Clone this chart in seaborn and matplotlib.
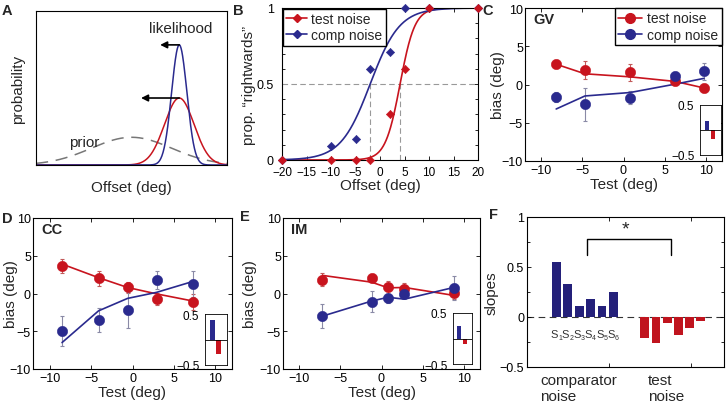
import numpy as np
import seaborn as sns
import matplotlib.pyplot as plt
from matplotlib.lines import Line2D
from matplotlib.ticker import MultipleLocator

RED = '#c8141e'
BLUE = '#2a2a8e'
RED_ERR = '#c25a5a'
BLUE_ERR = '#8a8aa6'
BAR_BLUE = '#24207a'
BAR_RED = '#c0141e'

# A: schematic gaussians (mean, sd, peak height)
a_means = [0.0, 5.0, 5.0]
a_sds = [4.2, 1.55, 0.8]
a_peaks = [0.18, 0.435, 0.78]
a_arrow_tips = [3.0, 1.0]   # where the shift arrows point to (comp, test)

# B: psychometric data
b_offsets = [-20, -10, -5, -2, 2, 5, 10, 20]
b_test = [0, 0, 0, 0, 0.30, 0.60, 1, 1]
b_comp = [0, 0.09, 0.14, 0.60, 0.71, 1, 1, 1]
b_pse = [4.1, -2.0]      # test, comp
b_slope = [1.5, 3.0]     # logistic scale, test, comp

# C: subject GV
gv_x = [-8.2, -4.7, 0.8, 6.3, 9.8]
gv_test = [2.7, 1.9, 1.6, 0.5, -0.45]
gv_test_err = [0.3, 1.15, 1.1, 0.4, 0.3]
gv_test_fit = [2.65, 1.4, 1.0, 0.4, -0.45]
gv_comp = [-1.6, -2.6, -1.7, 1.05, 1.7]
gv_comp_err = [0.65, 2.2, 0.9, 0.4, 1.15]
gv_comp_fit = [-3.2, -1.5, -1.05, 0.05, 0.8]
gv_inset = [0.19, -0.18]

# D: subject CC
cc_x = [-8.5, -4.1, -0.6, 2.9, 7.3]
cc_test = [3.6, 2.0, 0.8, -0.7, -1.1]
cc_test_err = [0.95, 1.0, 0.75, 0.8, 1.1]
cc_test_fit = [3.9, 2.1, 0.8, -0.05, -1.0]
cc_comp = [-5.0, -3.5, -2.2, 1.8, 1.3]
cc_comp_err = [2.0, 1.6, 2.4, 1.2, 1.7]
cc_comp_fit = [-6.5, -2.3, -0.65, 0.15, 1.6]
cc_inset = [0.39, -0.29]

# E: subject IM
im_x = [-7.2, -1.2, 0.8, 2.8, 8.8]
im_test = [1.8, 2.1, 0.8, 0.6, 0.05]
im_test_err = [0.85, 0.3, 0.9, 0.8, 0.8]
im_test_fit = [2.4, 1.5, 0.75, 0.8, -0.25]
im_comp = [-3.0, -1.1, -0.65, -0.05, 0.7]
im_comp_err = [1.55, 1.4, 0.6, 0.6, 1.6]
im_comp_fit = [-3.0, -1.0, -0.5, -0.75, 0.8]
im_inset = [0.25, -0.11]

# F: slopes per subject
subj_nums = ['1', '2', '3', '4', '5', '6']
comp_pos = [1.8, 2.48, 3.17, 3.87, 4.57, 5.25]
comp_slopes = [0.55, 0.33, 0.11, 0.18, 0.11, 0.25]
test_pos = [7.18, 7.86, 8.54, 9.22, 9.9, 10.57]
test_slopes = [-0.21, -0.26, -0.06, -0.18, -0.11, -0.04]
bracket_x = [3.64, 8.75]
bracket_y = [0.62, 0.78]

sns.set_style('ticks')
plt.rcParams['font.family'] = ['Liberation Sans', 'DejaVu Sans']
plt.rcParams['axes.unicode_minus'] = True

W, H = 726, 414
fig = plt.figure(figsize=(W / 100, H / 100), dpi=100)


def add_ax(l, t, r, b):
    return fig.add_axes([l / W, 1 - b / H, (r - l) / W, (b - t) / H])


def boxed(ax, lw=0.8):
    for s in ax.spines.values():
        s.set_visible(True)
        s.set_linewidth(lw)
        s.set_color('black')
    ax.tick_params(which='both', direction='in', top=True, right=True,
                   width=0.6, labelsize=9, pad=2, colors='black')
    ax.tick_params(which='major', length=3)
    ax.tick_params(which='minor', length=2)


def letter(x, y, s):
    fig.text(x / W, 1 - y / H, s, fontsize=10.5, fontweight='bold', va='baseline')


# ---------------- A ----------------
ax = add_ax(36, 12, 227, 166)
xa = np.linspace(-10, 10, 500)
styles = [('#777777', True), (RED, False), (BLUE, False)]
for m, sd, h, (c, dashed) in zip(a_means, a_sds, a_peaks, styles):
    sns.lineplot(x=xa, y=h * np.exp(-0.5 * ((xa - m) / sd) ** 2), ax=ax,
                 color=c, linewidth=1.1, sort=False, estimator=None)
    if dashed:
        ax.lines[-1].set_dashes((8, 5))
for tip, h in zip(a_arrow_tips, [a_peaks[2], a_peaks[1]]):
    ax.annotate('', xy=(tip, h), xytext=(a_means[1], h),
                arrowprops=dict(arrowstyle='-|>', color='black', lw=1.2,
                                shrinkA=0, shrinkB=0, mutation_scale=10))
ax.text(5.1, 0.89, 'likelihood', ha='center', va='center', fontsize=11)
ax.text(-4.9, 0.15, 'prior', ha='center', va='center', fontsize=11)
ax.set_xlim(-10, 10)
ax.set_ylim(0, 1)
ax.set_xticks([])
ax.set_yticks([])
boxed(ax)
ax.set_xlabel('Offset (deg)', fontsize=11, labelpad=11)
ax.set_ylabel('probability', fontsize=11, labelpad=8)

# ---------------- B ----------------
ax = add_ax(282, 9, 478, 161)
xb = np.linspace(-20, 20, 400)
ax.axhline(0.5, color='#999999', lw=0.8, dashes=(5, 3), zorder=1)
for pse, sc, c in zip(b_pse, b_slope, [RED, BLUE]):
    sns.lineplot(x=xb, y=1 / (1 + np.exp(-(xb - pse) / sc)), ax=ax, color=c,
                 linewidth=1.2, sort=False, estimator=None)
    ax.plot([pse, pse], [0, 0.5], color='#999999', lw=0.8, dashes=(5, 3), zorder=1)
sns.scatterplot(x=b_offsets, y=b_test, ax=ax, color=RED, marker='D', s=18,
                edgecolor=RED, linewidth=0.4, zorder=4, clip_on=False)
sns.scatterplot(x=b_offsets, y=b_comp, ax=ax, color=BLUE, marker='D', s=18,
                edgecolor=BLUE, linewidth=0.4, zorder=3, clip_on=False)
ax.set_xlim(-20, 20)
ax.set_ylim(0, 1)
ax.set_xticks(range(-20, 21, 5))
ax.set_yticks([0, 0.5, 1])
ax.set_yticklabels(['0', '0.5', '1'])
ax.yaxis.set_minor_locator(MultipleLocator(0.1))
boxed(ax)
ax.tick_params(axis='y', pad=6)
ax.tick_params(axis='x', pad=4.5, labelsize=8.5)
ax.set_xlabel('Offset (deg)', fontsize=11, labelpad=0)
ax.set_ylabel('prop. “rightwards”', fontsize=11, labelpad=0)
handles = [Line2D([], [], color=RED, marker='D', markersize=4.5, lw=1.2),
           Line2D([], [], color=BLUE, marker='D', markersize=4.5, lw=1.2)]
leg = ax.legend(handles, ['test noise', 'comp noise'], loc='upper left',
                bbox_to_anchor=(0.005, 0.995), fontsize=10, handlelength=1.5,
                handletextpad=0.3, borderpad=0.25, labelspacing=0.15,
                fancybox=False, framealpha=1, borderaxespad=0)
leg.get_frame().set_edgecolor('black')
leg.get_frame().set_linewidth(1.0)


# ---------------- C, D, E ----------------
def bias_panel(rect, name, x, t, t_err, t_fit, c, c_err, c_fit, in_rect, in_vals,
               label_px, legend=False):
    ax = add_ax(*rect)
    ax.errorbar(x, t, yerr=t_err, fmt='none', ecolor=RED_ERR, elinewidth=0.8,
                capsize=1.5, capthick=0.8, zorder=2)
    ax.errorbar(x, c, yerr=c_err, fmt='none', ecolor=BLUE_ERR, elinewidth=0.8,
                capsize=1.5, capthick=0.8, zorder=2)
    sns.lineplot(x=x, y=t_fit, ax=ax, color=RED, linewidth=1.2, sort=False, estimator=None)
    sns.lineplot(x=x, y=c_fit, ax=ax, color=BLUE, linewidth=1.2, sort=False, estimator=None)
    sns.scatterplot(x=x, y=t, ax=ax, color=RED, s=55, edgecolor=RED, linewidth=0.4, zorder=3)
    sns.scatterplot(x=x, y=c, ax=ax, color=BLUE, s=55, edgecolor=BLUE, linewidth=0.4, zorder=4)
    ax.set_xlim(-12, 12)
    ax.set_ylim(-10, 10)
    ax.set_xticks(range(-10, 11, 5))
    ax.set_yticks(range(-10, 11, 5))
    boxed(ax)
    ax.tick_params(axis='y', pad=1.5)
    ax.set_xlabel('Test (deg)', fontsize=11, labelpad=1)
    ax.set_ylabel('bias (deg)', fontsize=11)
    # label centre given in figure pixels; the anchor is the side facing the axis
    ax.yaxis.set_label_coords((label_px + 7 - rect[0]) / (rect[2] - rect[0]), 0.5)
    ax.text(-11, 8.5, name, fontsize=10.5, fontweight='bold', va='center', ha='left')
    if legend:
        hs = [Line2D([], [], color=RED, marker='o', markersize=7, lw=1.2),
              Line2D([], [], color=BLUE, marker='o', markersize=7, lw=1.2)]
        lg = ax.legend(hs, ['test noise', 'comp noise'], loc='upper right',
                       bbox_to_anchor=(1.0, 1.0), fontsize=10, handlelength=1.7,
                       handletextpad=0.4, borderpad=0.25, labelspacing=0.15,
                       fancybox=False, framealpha=1, borderaxespad=0)
        lg.get_frame().set_edgecolor('black')
        lg.get_frame().set_linewidth(1.0)

    axi = add_ax(*in_rect)
    sns.barplot(x=['comp', 'test'], y=in_vals, hue=['comp', 'test'],
                palette=[BLUE, RED], legend=False, width=0.75, saturation=1,
                errorbar=None, ax=axi, linewidth=0)
    axi.axhline(0, color='black', lw=0.6)
    axi.set_xlim(-1.18, 2.4)
    axi.set_ylim(-0.5, 0.5)
    axi.set_xticks([])
    axi.set_yticks([-0.5, 0.5])
    axi.set_yticklabels(['−0.5', '0.5'])
    axi.set_xlabel('')
    axi.set_ylabel('')
    boxed(axi, lw=0.6)
    axi.tick_params(length=0, labelsize=8.5, pad=4, top=False, right=False)
    return ax


bias_panel((525, 9, 722, 162), 'GV', gv_x, gv_test, gv_test_err, gv_test_fit,
           gv_comp, gv_comp_err, gv_comp_fit, (700, 106, 721, 156), gv_inset, 498,
           legend=True)
bias_panel((33, 219, 232, 370), 'CC', cc_x, cc_test, cc_test_err, cc_test_fit,
           cc_comp, cc_comp_err, cc_comp_fit, (205, 315, 227, 366), cc_inset, 11)
bias_panel((283, 219, 480, 370), 'IM', im_x, im_test, im_test_err, im_test_fit,
           im_comp, im_comp_err, im_comp_fit, (453, 314, 472, 365), im_inset, 250)

# ---------------- F ----------------
ax = add_ax(527, 218, 724, 368)
ax.axhline(0, color='#333333', lw=0.8, dashes=(6, 4), zorder=0.5)
sns.barplot(x=comp_pos, y=comp_slopes, native_scale=True, color=BAR_BLUE,
            saturation=1, width=0.8, errorbar=None, linewidth=0, ax=ax)
sns.barplot(x=test_pos, y=test_slopes, native_scale=True, color=BAR_RED,
            saturation=1, width=0.8, errorbar=None, linewidth=0, ax=ax)
bx0, bx1 = bracket_x
by0, by1 = bracket_y
ax.plot([bx0, bx0, bx1, bx1], [by0, by1, by1, by0], color='black', lw=1.0)
ax.text((bx0 + bx1) / 2 - 0.2, by1 + 0.02, '*', ha='center', va='bottom', fontsize=14)
# subject labels S1..S6 under the comparator bars
for p, n in zip(comp_pos, subj_nums):
    ax.text(p + 0.1, -0.12, 'S', ha='right', va='top', fontsize=8, color='#333333')
    ax.text(p + 0.1, -0.17, n, ha='left', va='top', fontsize=5, color='#333333')
ax.text(0.8, -0.56, 'comparator\nnoise', ha='left', va='top', fontsize=11,
        clip_on=False, linespacing=1.15)
ax.text(7.35, -0.56, 'test\nnoise', ha='left', va='top', fontsize=11,
        clip_on=False, linespacing=1.15)
ax.set_xlim(0, 12)
ax.set_ylim(-0.5, 1)
ax.set_xticks([5, 10])
ax.set_xticklabels([])
ax.set_yticks([-0.5, 0, 0.5, 1])
ax.set_yticklabels(['−0.5', '0', '0.5', '1'])
ax.yaxis.set_minor_locator(MultipleLocator(0.25))
ax.set_xlabel('')
boxed(ax)
ax.set_ylabel('slopes', fontsize=11, labelpad=1)

letter(2, 15, 'A')
letter(233, 15, 'B')
letter(482, 15, 'C')
letter(2, 223, 'D')
letter(240, 221, 'E')
letter(489, 219, 'F')

fig.savefig('out.png', dpi=100)
